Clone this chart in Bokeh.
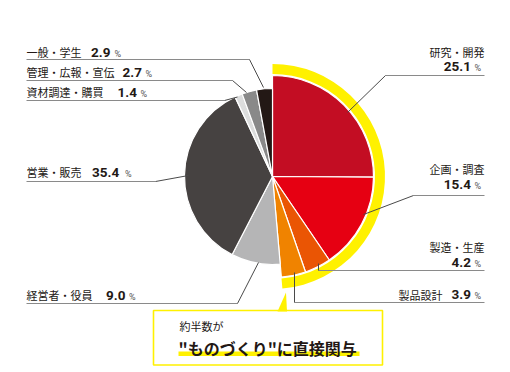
import numpy as np
from bokeh.plotting import figure
from bokeh.models import Range1d
from bokeh.core.properties import value
from bokeh.embed import file_html
from bokeh.resources import INLINE

# ---- data ----
categories = ["研究・開発", "企画・調査", "製造・生産", "製品設計", "経営者・役員",
              "営業・販売", "資材調達・購買", "管理・広報・宣伝", "一般・学生"]
shares = [25.1, 15.4, 4.2, 3.9, 9.0, 35.4, 1.4, 2.7, 2.9]
colors = ["#C30D23", "#E60012", "#EA5504", "#F08300", "#B5B5B6",
          "#464241", "#DCDDDD", "#898989", "#231815"]
highlight_count = 4  # ものづくり group
callout_small = "約半数が"
callout_big = "\"ものづくり\"に直接関与"

# ---- layout (screen px, frame origin at top-left) ----
W, H = 494, 366
def Y(sy):
    return H - sy

CX, CY = 272, 176
R_BIG, R_SMALL = 101, 88
YELLOW = "#FFF100"
TXT = "#231815"
JP = value("Noto Sans CJK JP")
NUM = value("Roboto")

p = figure(width=W, height=H, x_range=Range1d(0, W), y_range=Range1d(0, H),
           x_axis_type=None, y_axis_type=None, toolbar_location=None,
           output_backend="svg", min_border=0, outline_line_color=None)
p.background_fill_color = "white"

# ---- pie ----
cum = np.concatenate([[0], np.cumsum(shares)]) / 100.0
start = np.pi / 2 - 2 * np.pi * cum[:-1]
end = np.pi / 2 - 2 * np.pi * cum[1:]
radii = [R_BIG if i < highlight_count else R_SMALL for i in range(len(shares))]

p.annular_wedge(x=CX, y=Y(CY), inner_radius=102.5, outer_radius=112.5,
                start_angle=np.pi / 2, end_angle=float(end[highlight_count - 1]),
                direction="clock", fill_color=YELLOW, line_color=None)

p.wedge(x=[CX] * len(shares), y=[Y(CY)] * len(shares), radius=radii,
        start_angle=start, end_angle=end, direction="clock",
        fill_color=colors, line_color="white", line_width=1.2)

# ---- leader lines: underline (gray) + pointer to slice (darker) ----
under_xs = [[26, 249], [26, 232], [26, 224], [26, 155], [26, 237],
            [484, 385], [484, 413], [484, 318], [484, 294]]
under_ys = [[59, 59], [80, 80], [100, 100], [181, 181], [303, 303],
            [75, 75], [195, 195], [270, 270], [302, 302]]
point_xs = [[249, 263], [232, 246], [224, 237], [155, 188], [237, 258],
            [385, 347], [413, 363], [318, 318], [294, 294]]
point_ys = [[59, 87], [80, 92], [100, 96.5], [181, 175], [303, 262],
            [75, 112], [195, 214], [270, 263], [302, 272]]
p.multi_line(xs=under_xs, ys=[[Y(v) for v in ys] for ys in under_ys],
             line_color="#8a8a8a", line_width=1)
p.multi_line(xs=point_xs, ys=[[Y(v) for v in ys] for ys in point_ys],
             line_color="#4a4a4a", line_width=1)

NAME_FS = value("11px")
NUM_FS = value("13.5px")
PCT_FS = value("9px")

# ---- left labels ----
left_idx = [8, 7, 6, 5, 4]
left_mid = [51.7, 71.7, 91.5, 171.7, 294.7]
left_num_x = [90.5, 122, 117, 91.5, 105.5]
left_pct_x = [114, 145, 140, 124.5, 128.5]

p.text(x=[26] * 5, y=[Y(m) for m in left_mid], text=[categories[i] for i in left_idx],
       text_font=JP, text_font_size=NAME_FS, text_color=TXT,
       text_align="left", text_baseline="middle")
p.text(x=left_num_x, y=[Y(m) for m in left_mid], text=["%.1f" % shares[i] for i in left_idx],
       text_font=NUM, text_font_style="bold", text_font_size=NUM_FS, text_color=TXT,
       text_align="left", text_baseline="middle")
p.text(x=left_pct_x, y=[Y(m + 1.5) for m in left_mid], text=["%"] * 5,
       text_font=NUM, text_font_size=PCT_FS, text_color="#555555",
       text_align="left", text_baseline="middle")

# ---- right labels ----
right_idx = [0, 1, 2]
right_name_mid = [51.3, 168, 246.7]
right_num_mid = [66.2, 184, 261.5]
p.text(x=[484] * 3, y=[Y(m) for m in right_name_mid], text=[categories[i] for i in right_idx],
       text_font=JP, text_font_size=NAME_FS, text_color=TXT,
       text_align="right", text_baseline="middle")
p.text(x=[470.5] * 3, y=[Y(m) for m in right_num_mid], text=["%.1f" % shares[i] for i in right_idx],
       text_font=NUM, text_font_style="bold", text_font_size=NUM_FS, text_color=TXT,
       text_align="right", text_baseline="middle")
p.text(x=[474] * 3, y=[Y(m + 1.5) for m in right_num_mid], text=["%"] * 3,
       text_font=NUM, text_font_size=PCT_FS, text_color="#555555",
       text_align="left", text_baseline="middle")

p.text(x=[442], y=[Y(294)], text=[categories[3]],
       text_font=JP, text_font_size=NAME_FS, text_color=TXT,
       text_align="right", text_baseline="middle")
p.text(x=[470.5], y=[Y(294)], text=["%.1f" % shares[3]],
       text_font=NUM, text_font_style="bold", text_font_size=NUM_FS, text_color=TXT,
       text_align="right", text_baseline="middle")
p.text(x=[474], y=[Y(295.5)], text=["%"],
       text_font=NUM, text_font_size=PCT_FS, text_color="#555555",
       text_align="left", text_baseline="middle")

# ---- callout ----
p.quad(left=153, right=382, top=Y(310), bottom=Y(364.5),
       fill_color="white", line_color=YELLOW, line_width=1.6)
p.patch(x=[277, 286.5, 285.5], y=[Y(311), Y(311), Y(292)], fill_color=YELLOW, line_color=None)
p.quad(left=178, right=359, top=Y(351), bottom=Y(355.5), fill_color=YELLOW, line_color=None)
p.text(x=[179], y=[Y(325)], text=[callout_small], text_font=JP,
       text_font_size=value("11px"), text_color=TXT, text_align="left", text_baseline="middle")
p.text(x=[178], y=[Y(347)], text=[callout_big], text_font=JP, text_font_style="bold",
       text_font_size=value("16px"), text_color=TXT, text_align="left", text_baseline="middle")

open("out.html", "w").write(file_html(p, INLINE))
